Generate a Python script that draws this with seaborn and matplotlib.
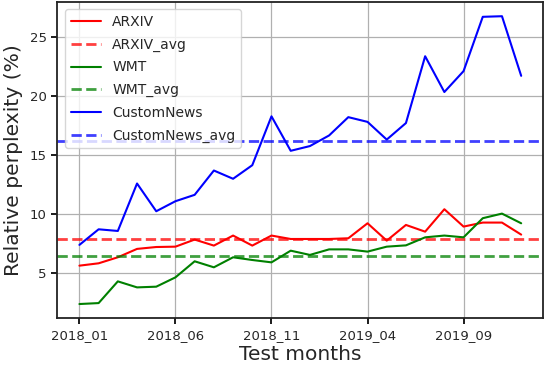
import numpy as np
import pandas as pd
import matplotlib
matplotlib.use("Agg")
import matplotlib.pyplot as plt
import seaborn as sns

# ------- data -------
months = [f"{y}_{m:02d}" for y in (2018, 2019) for m in range(1, 13)]
arxiv = [5.62, 5.82, 6.33, 7.04, 7.20, 7.23, 7.83, 7.32, 8.17, 7.32, 8.17, 7.88,
         7.88, 7.88, 7.94, 9.21, 7.74, 9.07, 8.50, 10.40, 8.93, 9.27, 9.27, 8.25]
wmt = [2.37, 2.45, 4.29, 3.78, 3.84, 4.63, 5.99, 5.48, 6.33, 6.10, 5.90, 6.89,
       6.53, 7.00, 7.00, 6.81, 7.23, 7.34, 8.02, 8.17, 8.02, 9.64, 10.03, 9.21]
customnews = [7.38, 8.70, 8.56, 12.58, 10.23, 11.08, 11.62, 13.68, 12.98, 14.13, 18.27, 15.35,
              15.75, 16.65, 18.20, 17.80, 16.30, 17.70, 23.36, 20.33, 22.10, 26.70, 26.75, 21.70]
arxiv_avg = 7.88
wmt_avg = 6.44
customnews_avg = 16.22
# -------------------------------------------


def main():
    sns.set_theme(style="ticks")
    plt.rcParams["font.family"] = ["DejaVu Sans"]

    df = pd.DataFrame({
        "idx": np.arange(len(months)),
        "ARXIV": arxiv,
        "WMT": wmt,
        "CustomNews": customnews,
    })

    fig, ax = plt.subplots(figsize=(5.46, 3.66), dpi=100)

    series = [("ARXIV", arxiv_avg, "red"),
              ("WMT", wmt_avg, "green"),
              ("CustomNews", customnews_avg, "blue")]
    for name, avg, color in series:
        sns.lineplot(data=df, x="idx", y=name, color=color, linewidth=1.5,
                     label=name, ax=ax)
        ax.axhline(avg, color=color, linestyle="--", linewidth=2, alpha=0.75,
                   label=f"{name}_avg")

    ax.grid(True, color="#b0b0b0", linewidth=0.9)
    ticks = list(range(0, len(months), 5))
    ax.set_xticks(ticks)
    ax.set_xticklabels([months[i] for i in ticks], fontsize=9.5)
    ax.set_yticks([5, 10, 15, 20, 25])
    ax.tick_params(axis="y", labelsize=9.5)
    ax.tick_params(direction="out", length=4, color="black")
    ax.set_xlabel("Test months", fontsize=14.5, labelpad=2)
    ax.set_ylabel("Relative perplexity (%)", fontsize=14.6, labelpad=5)
    for s in ax.spines.values():
        s.set_color("#222222")
        s.set_linewidth(1.3)

    ax.legend(loc="upper left", fontsize=10, frameon=True, labelspacing=0.62,
              handlelength=2.2, handletextpad=0.8, borderaxespad=0.55)

    fig.subplots_adjust(left=0.105, right=0.995, top=0.995, bottom=0.13)
    plt.savefig("out.png", dpi=100)


if __name__ == "__main__":
    main()
